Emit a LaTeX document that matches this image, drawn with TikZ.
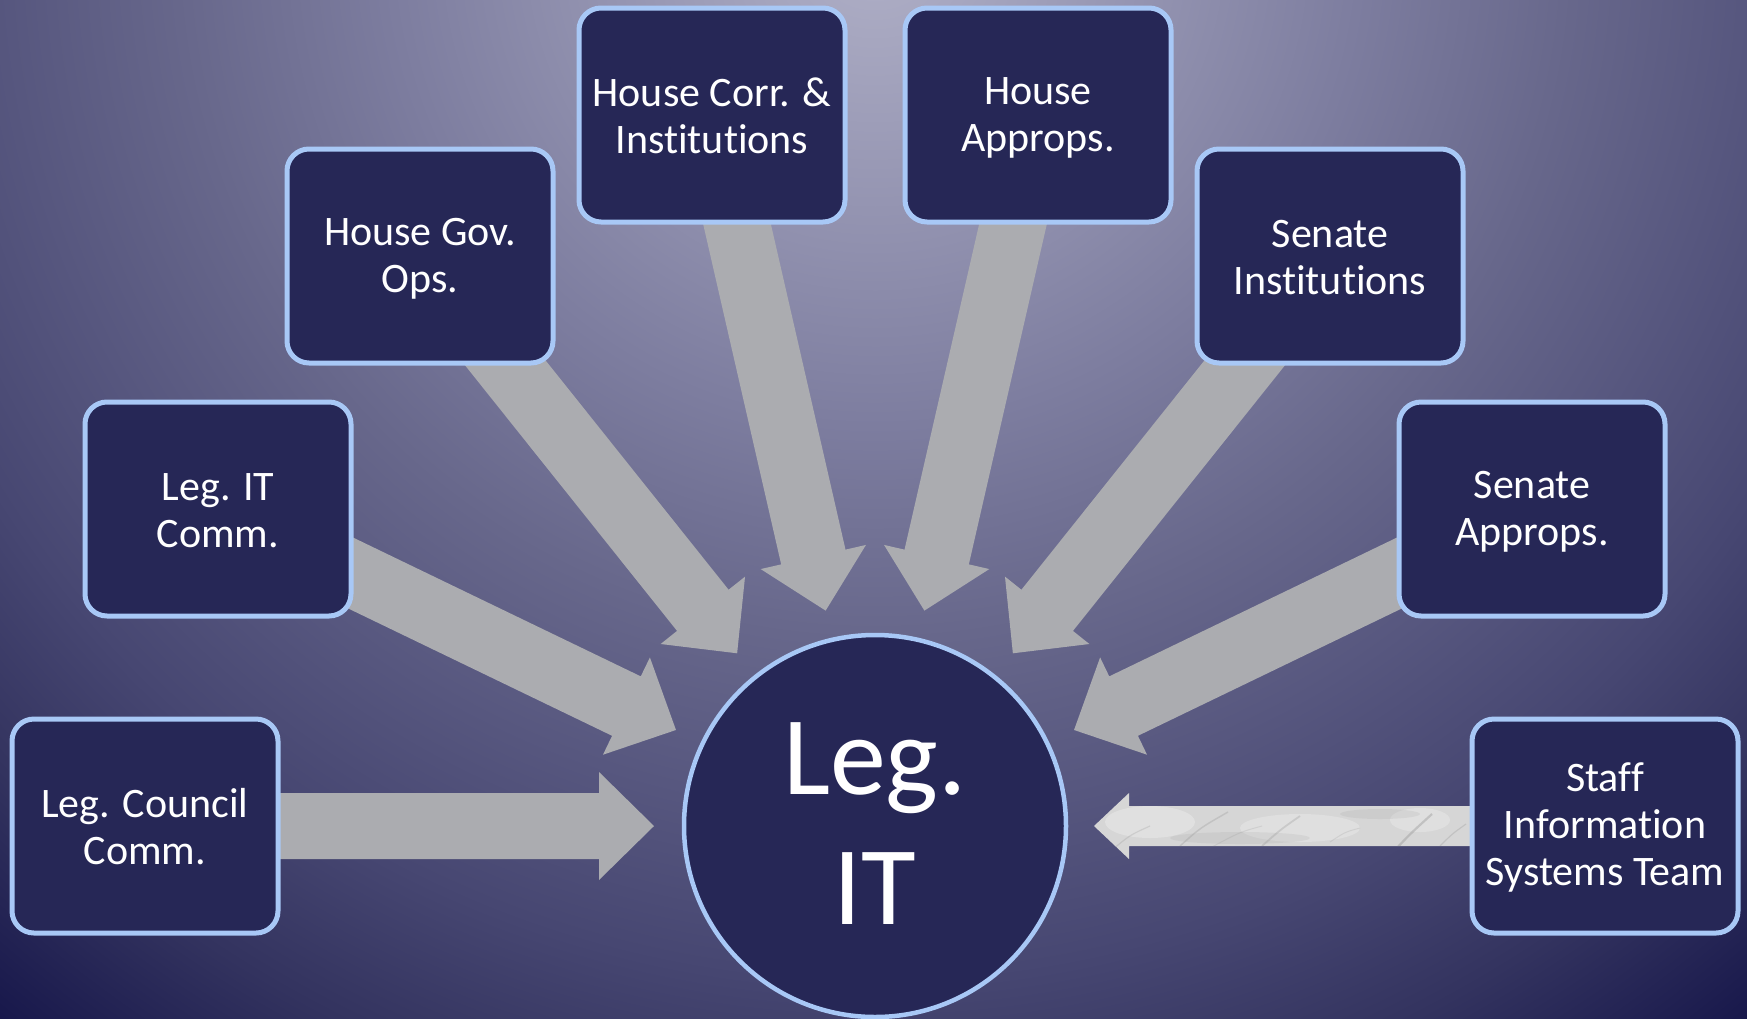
\documentclass[tikz,border=0pt]{standalone}
\usepackage{fontspec}
\setmainfont{Carlito}[Ligatures=NoCommon]
\usetikzlibrary{calc}
\definecolor{boxfill}{HTML}{262756}
\definecolor{boxline}{HTML}{A8C8F6}
\definecolor{arrowgray}{HTML}{ABACB0}
\definecolor{marblebase}{HTML}{D6D6D6}
\definecolor{marblevein}{HTML}{8A8A8A}
\definecolor{bga}{HTML}{B0B0C6}
\definecolor{bgb}{HTML}{ABABC3}
\definecolor{bgc}{HTML}{7E7EA0}
\definecolor{bgd}{HTML}{67678B}
\definecolor{bge}{HTML}{57577F}
\definecolor{bgf}{HTML}{474772}
\definecolor{bgg}{HTML}{33335F}
\definecolor{bgh}{HTML}{16164A}
\pgfdeclarelayer{back}
\pgfdeclarelayer{mid}
\pgfsetlayers{back,mid,main}
% 25bp corresponds to the radius of the shaded circle
\pgfdeclareradialshading{bgshade}{\pgfpoint{0bp}{0bp}}{color(0bp)=(bga); color(1bp)=(bgb); color(8.5bp)=(bgc); color(12.5bp)=(bgd); color(15.5bp)=(bge); color(18.5bp)=(bgf); color(21.5bp)=(bgg); color(25bp)=(bgh); color(50bp)=(bgh)}
\newcommand\bs{\rule[-3pt]{0pt}{35pt}}
\newcommand\hs{\rule[-10pt]{0pt}{86pt}}
% #1 from node, #2 to node, #3 tip distance, #4 base distance, #5 half shaft, #6 half head, #7 style
\newcommand\blockarrow[7]{%
  \path ($(#2.center)!#3!(#1.center)$) coordinate (tipP)
        ($(#2.center)!#4!(#1.center)$) coordinate (baseP);
  \path[#7] ($(#1.center)!#5!90:(#2.center)$) -- ($(baseP)!#5!90:(#2.center)$)
     -- ($(baseP)!#6!90:(#2.center)$) -- (tipP)
     -- ($(baseP)!#6!-90:(#2.center)$) -- ($(baseP)!#5!-90:(#2.center)$)
     -- ($(#1.center)!#5!-90:(#2.center)$) -- cycle;
}
\begin{document}
\begin{tikzpicture}[x=1pt,y=-1pt,
  box/.style={draw=boxline, line width=5pt, fill=boxfill, rounded corners=22pt,
    minimum width=266pt, minimum height=214pt, inner sep=0pt, align=center,
    text=white, font=\fontsize{42}{47}\selectfont},
  hub/.style={circle, draw=boxline, line width=4.5pt, fill=boxfill,
    minimum size=382pt, inner sep=0pt, align=center, text=white,
    font=\fontsize{112}{130}\selectfont},
  grayarrow/.style={fill=arrowgray},
  marblearrow/.style={fill=marblebase, path picture={
    \fill[white, opacity=0.25] (1150,822) ellipse (45 and 16);
    \fill[white, opacity=0.22] (1300,828) ellipse (60 and 14);
    \fill[white, opacity=0.22] (1420,820) ellipse (30 and 12);
    \fill[marblevein, opacity=0.12] (1240,838) ellipse (70 and 6);
    \fill[marblevein, opacity=0.12] (1380,814) ellipse (40 and 5);
    \draw[marblevein, opacity=0.22, line width=1.2pt] (1112,850) .. controls (1130,835) .. (1150,826);
    \draw[marblevein, opacity=0.25, line width=1.5pt] (1180,846) .. controls (1200,828) .. (1228,812);
    \draw[marblevein, opacity=0.18, line width=1pt] (1210,848) .. controls (1240,832) .. (1262,826);
    \draw[marblevein, opacity=0.25, line width=1.8pt] (1262,846) .. controls (1280,830) .. (1300,816);
    \draw[marblevein, opacity=0.18, line width=1pt] (1330,842) .. controls (1345,832) .. (1360,828);
    \draw[marblevein, opacity=0.35, line width=2.2pt] (1395,850) .. controls (1410,834) .. (1432,814);
    \draw[marblevein, opacity=0.25, line width=1.2pt] (1440,846) .. controls (1452,834) .. (1466,824);
  }}]
\useasboundingbox (0,0) rectangle (1747,1018);
\begin{pgfonlayer}{back}
  \begin{scope}
    \clip (0,0) rectangle (1747,1018);
    \shade[shading=bgshade] (875,-60) circle (1400);
  \end{scope}
\end{pgfonlayer}

\node[hub] (leg) at (875,826) {\hs Leg.\hs\\\hs IT\hs};
\node[box] (lcc) at (145,826) {\bs Leg. Council\\\bs Comm.};
\node[box] (lit) at (218,509) {\bs Leg. IT\\\bs Comm.};
\node[box] (hgo) at (420,256) {\bs House Gov.\\\bs Ops.};
\node[box] (hci) at (712,115) {\bs House Corr. \&\\\bs Institutions};
\node[box] (hap) at (1038,115) {\bs House\\\bs Approps.};
\node[box] (sin) at (1330,256) {\bs Senate\\\bs Institutions};
\node[box] (sap) at (1532,509) {\bs Senate\\\bs Approps.};
\node[box] (sis) at (1605,826) {\bs Staff\\\bs Information\\\bs Systems Team};

\begin{pgfonlayer}{mid}
  \blockarrow{lcc}{leg}{221pt}{276pt}{33pt}{54pt}{grayarrow}
  \blockarrow{lit}{leg}{221pt}{276pt}{33pt}{54pt}{grayarrow}
  \blockarrow{hgo}{leg}{221pt}{276pt}{33pt}{54pt}{grayarrow}
  \blockarrow{hci}{leg}{221pt}{276pt}{33pt}{54pt}{grayarrow}
  \blockarrow{hap}{leg}{221pt}{276pt}{33pt}{54pt}{grayarrow}
  \blockarrow{sin}{leg}{221pt}{276pt}{33pt}{54pt}{grayarrow}
  \blockarrow{sap}{leg}{221pt}{276pt}{33pt}{54pt}{grayarrow}
  \blockarrow{sis}{leg}{219pt}{254pt}{20pt}{33pt}{marblearrow}
\end{pgfonlayer}
\end{tikzpicture}
\end{document}
